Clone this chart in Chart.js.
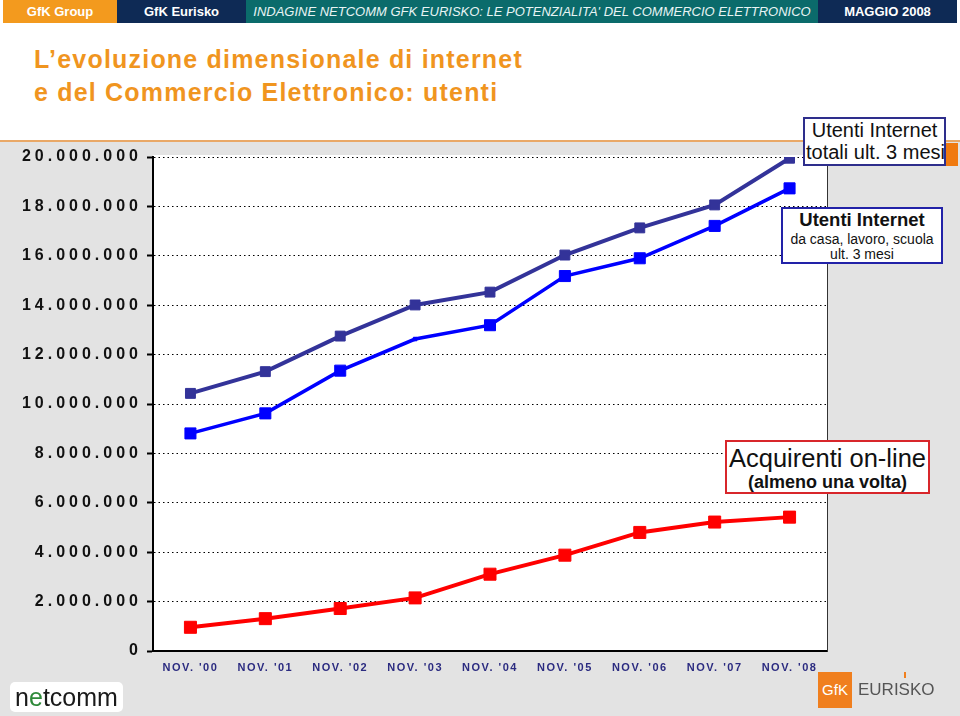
<!DOCTYPE html>
<html lang="it">
<head>
<meta charset="utf-8">
<title>L’evoluzione dimensionale di internet e del Commercio Elettronico: utenti</title>
<script src="https://cdn.jsdelivr.net/npm/chart.js@4.4.1/dist/chart.umd.min.js"></script>
<style>
  body { margin: 0; width: 960px; height: 716px; position: relative; overflow: hidden; background: #fff; font-family: "Liberation Sans", Arial, sans-serif; }
  .seg { position: absolute; top: 0; height: 23px; line-height: 23px; color: #fff; font-size: 13px; font-weight: bold; text-align: center; white-space: nowrap; overflow: hidden; }
  #seg1 { left: 3px; width: 114px; background: #f39a1e; }
  #seg2 { left: 117px; width: 129px; background: #0e2a55; }
  #seg3 { left: 246px; width: 572px; background: #0b6b6b; font-family: "Liberation Sans Narrow", "Liberation Sans", sans-serif; font-weight: normal; font-style: italic; color: #e8f4f4; }
  #seg4 { left: 818px; width: 139px; background: #0e2a55; }
  #title { position: absolute; left: 34px; top: 43px; font-size: 25px; line-height: 33px; font-weight: bold; letter-spacing: 1.2px; color: #f0951f; white-space: nowrap; }
  #panel { position: absolute; left: 0; top: 140px; width: 960px; height: 576px; background: #e3e3e3; border-top: 2px solid #e9a867; }
  #orangeTab { position: absolute; left: 912px; top: 143px; width: 46px; height: 23px; background: #f07a10; }
  #chart { position: absolute; left: 0; top: 142px; }
  .box { position: absolute; box-sizing: border-box; background: #fff; text-align: center; white-space: nowrap; overflow: hidden; color: #111; }
  #box1 { left: 803px; top: 117px; width: 143px; height: 49px; border: 2px solid #2e2e8c; font-size: 20px; line-height: 22px; }
  #box1 .l2 { text-align: left; padding-left: 1px; }
  #box2 { left: 781px; top: 207px; width: 162px; height: 57px; border: 2px solid #2222a8; }
  #box2 .l1 { font-size: 18.5px; font-weight: bold; line-height: 22px; }
  #box2 .l2 { font-size: 14px; line-height: 16px; }
  #box2 .l3 { font-size: 14px; line-height: 15px; }
  #box3 { left: 725px; top: 440px; width: 205px; height: 54px; border: 2px solid #d8262b; }
  #box3 .l1 { font-size: 25.5px; line-height: 32px; }
  #box3 .l2 { font-size: 18px; font-weight: bold; line-height: 16px; }
  #netcomm { position: absolute; left: 10px; top: 682px; width: 113px; height: 30px; background: #fff; border-radius: 5px; font-size: 25px; line-height: 30px; text-align: center; color: #1a1a1a; }
  #netcomm span { color: #2f8a3a; }
  #gfk { position: absolute; left: 818px; top: 672px; width: 34px; height: 36px; background: #f07f1e; color: #fff; font-size: 15px; line-height: 36px; text-align: center; }
  #eurisko { position: absolute; left: 858px; top: 679px; font-size: 17px; line-height: 22px; color: #555; }
  #euriskoMark { position: absolute; left: 904px; top: 672px; width: 2px; height: 6px; background: #f07f1e; }
</style>
</head>
<body>
<div class="seg" id="seg1">GfK Group</div>
<div class="seg" id="seg2">GfK Eurisko</div>
<div class="seg" id="seg3">INDAGINE NETCOMM GFK EURISKO: LE POTENZIALITA' DEL COMMERCIO ELETTRONICO</div>
<div class="seg" id="seg4">MAGGIO 2008</div>
<div id="title">L’evoluzione dimensionale di internet<br>e del Commercio Elettronico: utenti</div>
<div id="panel"></div>
<div id="orangeTab"></div>
<canvas id="chart" width="960" height="574"></canvas>
<div class="box" id="box1"><div>Utenti Internet</div><div class="l2">totali ult. 3 mesi</div></div>
<div class="box" id="box2"><div class="l1">Utenti Internet</div><div class="l2">da casa, lavoro, scuola</div><div class="l3">ult. 3 mesi</div></div>
<div class="box" id="box3"><div class="l1">Acquirenti on-line</div><div class="l2">(almeno una volta)</div></div>
<div id="netcomm">n<span>e</span>tcomm</div>
<div id="gfk">GfK</div>
<div id="eurisko">EURISKO</div>
<div id="euriskoMark"></div>
<script>
// survey waves
const periods = ["NOV. '00", "NOV. '01", "NOV. '02", "NOV. '03", "NOV. '04", "NOV. '05", "NOV. '06", "NOV. '07", "NOV. '08"];
const totalUsers = [10430000, 11310000, 12750000, 14010000, 14530000, 16030000, 17130000, 18060000, 19950000];
const homeWorkSchoolUsers = [8810000, 9620000, 11350000, 12630000, 13190000, 15180000, 15900000, 17210000, 18730000];
const onlineBuyers = [960000, 1310000, 1720000, 2150000, 3110000, 3880000, 4800000, 5220000, 5420000];
const yMax = 20000000;
const yStep = 2000000;

const formatThousands = v => String(v).replace(/\B(?=(\d{3})+(?!\d))/g, '.');

// white plot area on the grey panel
const plotBackground = {
    id: 'plotBackground',
    beforeDraw(chart) {
        const { ctx, chartArea: a } = chart;
        ctx.save();
        ctx.fillStyle = '#fff';
        ctx.fillRect(a.left, a.top - 2, a.right - a.left, a.bottom - a.top + 2);
        ctx.restore();
    }
};

// tick labels in the original are letter-spaced
const spacedLabels = {
    id: 'spacedLabels',
    afterLayout(chart) {
        [['y', '4px'], ['x', '1.5px']].forEach(([id, spacing]) => {
            const scale = chart.scales[id];
            if (!scale || scale._spaced) return;
            const drawLabels = scale.drawLabels;
            scale.drawLabels = function (area) {
                this.ctx.save();
                this.ctx.letterSpacing = spacing;
                drawLabels.call(this, area);
                this.ctx.restore();
            };
            scale._spaced = true;
        });
    }
};

const series = (label, data, color, width, radius) => ({
    label, data,
    borderColor: color, backgroundColor: color,
    borderWidth: width,
    pointStyle: 'rect', pointRadius: radius,
    pointBackgroundColor: color, pointBorderColor: color, pointBorderWidth: 1,
    tension: 0
});

const homeRadius = homeWorkSchoolUsers.map((v, i) => i === 3 ? 2.5 : 7.8);

new Chart(document.getElementById('chart'), {
    type: 'line',
    data: {
        labels: periods,
        datasets: [
            series('Utenti Internet totali ult. 3 mesi', totalUsers, '#333399', 4, 7),
            series('Utenti Internet da casa, lavoro, scuola ult. 3 mesi', homeWorkSchoolUsers, '#0000ff', 3.5, homeRadius),
            series('Acquirenti on-line (almeno una volta)', onlineBuyers, '#ff0000', 4, 8.5)
        ]
    },
    options: {
        responsive: false,
        animation: false,
        layout: { padding: { top: 15, right: 133, bottom: 0, left: 0 } },
        plugins: { legend: { display: false }, tooltip: { enabled: false } },
        scales: {
            x: {
                offset: true,
                grid: { display: false, drawTicks: false, offset: true },
                border: { color: '#000', width: 2 },
                ticks: { color: '#2b2b80', padding: 10, font: { family: 'Liberation Sans', size: 11, weight: 'bold' }, maxRotation: 0, autoSkip: false },
                afterFit: s => { s.height = 65; }
            },
            y: {
                min: 0, max: yMax,
                grid: { color: '#000', lineWidth: 1, tickLength: 6, tickColor: '#000', tickWidth: 2, tickBorderDash: [] },
                border: { color: '#000', width: 2, dash: [1.5, 3] },
                ticks: {
                    stepSize: yStep, padding: 5, color: '#111',
                    font: { family: 'Liberation Sans', size: 16, weight: 'bold' },
                    callback: v => formatThousands(v)
                },
                afterFit: s => { s.width = 153; }
            },
            frame: {
                type: 'linear', position: 'right',
                grid: { display: false, drawTicks: false },
                border: { color: '#333', width: 1 },
                ticks: { display: false },
                afterFit: s => { s.width = 0; }
            }
        }
    },
    plugins: [plotBackground, spacedLabels]
});
</script>
</body>
</html>
